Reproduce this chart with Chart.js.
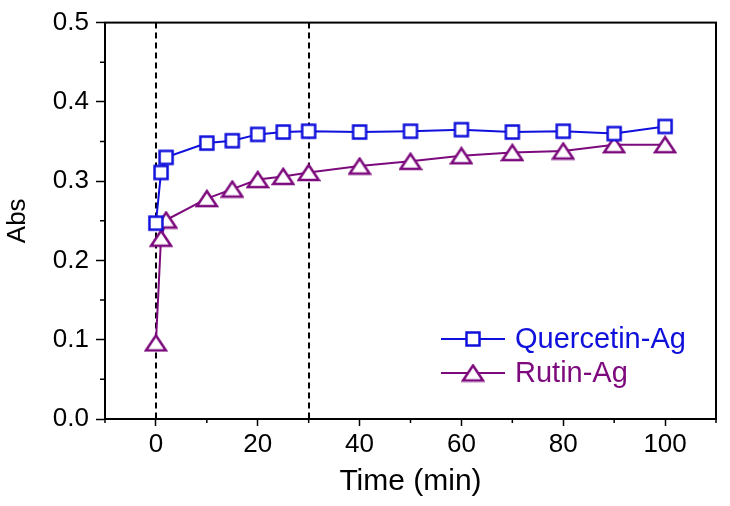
<!DOCTYPE html>
<html>
<head>
<meta charset="utf-8">
<script src="https://cdn.jsdelivr.net/npm/chart.js@4.4.0/dist/chart.umd.min.js"></script>
<style>
  html, body { margin: 0; padding: 0; background: #fff; }
  canvas { display: block; }
</style>
</head>
<body>
<canvas id="chart" width="730" height="506"></canvas>
<script>
// data
const times = [0, 1, 2, 10, 15, 20, 25, 30, 40, 50, 60, 70, 80, 90, 100];
const quercetinAbs = [0.247, 0.311, 0.330, 0.348, 0.351, 0.359, 0.362, 0.363, 0.362, 0.363, 0.365, 0.362, 0.363, 0.360, 0.369];
const rutinAbs = [0.096, 0.228, 0.251, 0.278, 0.290, 0.302, 0.306, 0.311, 0.319, 0.325, 0.332, 0.336, 0.338, 0.346, 0.346];
const seriesNames = ['Quercetin-Ag', 'Rutin-Ag'];
const markerTimes = [0, 30]; // dashed reference lines

const BLUE = '#1010dc';
const PURPLE = '#7d0a7d';
const FONT = '"Liberation Sans", Arial, sans-serif';

// hollow markers like the original
function squareMarker(color) {
  const c = document.createElement('canvas');
  c.width = 18; c.height = 18;
  const g = c.getContext('2d');
  g.lineWidth = 2.5;
  g.strokeStyle = color;
  g.fillStyle = '#fff';
  g.beginPath();
  g.rect(2.5, 2.5, 13, 13);
  g.fill();
  g.stroke();
  return c;
}

function triangleMarker(color) {
  const c = document.createElement('canvas');
  c.width = 24; c.height = 19;
  const g = c.getContext('2d');
  g.lineWidth = 2.5;
  g.strokeStyle = color;
  g.fillStyle = '#fff';
  g.beginPath();
  g.moveTo(12, 2);
  g.lineTo(22, 17);
  g.lineTo(2, 17);
  g.closePath();
  g.fill();
  g.stroke();
  return c;
}

const markers = [squareMarker(BLUE), triangleMarker(PURPLE)];
const colors = [BLUE, PURPLE];

// dashed vertical lines at the marked times
const refLines = {
  id: 'refLines',
  beforeDatasetsDraw(chart) {
    const { ctx, chartArea, scales } = chart;
    ctx.save();
    ctx.strokeStyle = '#000';
    ctx.lineWidth = 2;
    ctx.setLineDash([6, 4]);
    markerTimes.forEach(t => {
      const x = Math.round(scales.x.getPixelForValue(t));
      ctx.beginPath();
      ctx.moveTo(x, chartArea.top);
      ctx.lineTo(x, chartArea.bottom);
      ctx.stroke();
    });
    ctx.restore();
  }
};

// frame, minor ticks and the legend
const decor = {
  id: 'decor',
  afterDraw(chart) {
    const { ctx, chartArea: a, scales } = chart;
    ctx.save();
    ctx.strokeStyle = '#000';
    ctx.lineWidth = 2;
    ctx.strokeRect(a.left, a.top, a.right - a.left, a.bottom - a.top);

    // minor ticks
    ctx.lineWidth = 1.5;
    ctx.beginPath();
    scales.x.ticks.forEach(t => {
      if (t.value % 20 !== 0) {
        const x = scales.x.getPixelForValue(t.value);
        ctx.moveTo(x, a.bottom);
        ctx.lineTo(x, a.bottom + 4);
      }
    });
    scales.y.ticks.forEach(t => {
      if (Math.round(t.value * 100) % 10 !== 0) {
        const y = scales.y.getPixelForValue(t.value);
        ctx.moveTo(a.left, y);
        ctx.lineTo(a.left - 5, y);
      }
    });
    ctx.stroke();

    // legend
    const lx = 441, ly = [339, 373];
    ctx.font = '29px ' + FONT;
    ctx.textBaseline = 'middle';
    seriesNames.forEach((name, i) => {
      ctx.strokeStyle = colors[i];
      ctx.lineWidth = 2;
      ctx.beginPath();
      ctx.moveTo(lx, ly[i]);
      ctx.lineTo(lx + 64, ly[i]);
      ctx.stroke();
      const m = markers[i];
      ctx.drawImage(m, lx + 32 - m.width / 2, ly[i] - m.height / 2);
      ctx.fillStyle = colors[i];
      ctx.fillText(name, lx + 74, ly[i] + 1);
    });
    ctx.restore();
  }
};

new Chart(document.getElementById('chart'), {
  type: 'line',
  data: {
    datasets: [
      {
        label: seriesNames[0],
        data: times.map((t, i) => ({ x: t, y: quercetinAbs[i] })),
        borderColor: BLUE,
        borderWidth: 2,
        pointStyle: markers[0],
        tension: 0
      },
      {
        label: seriesNames[1],
        data: times.map((t, i) => ({ x: t, y: rutinAbs[i] })),
        borderColor: PURPLE,
        borderWidth: 2,
        pointStyle: markers[1],
        tension: 0
      }
    ]
  },
  options: {
    responsive: false,
    animation: false,
    layout: { padding: { top: 22, right: 14, bottom: 0, left: 0 } },
    plugins: {
      legend: { display: false },
      tooltip: { enabled: false }
    },
    scales: {
      x: {
        type: 'linear',
        min: -10,
        max: 110,
        afterFit(scale) { scale.height = 87; },
        grid: {
          drawOnChartArea: false,
          tickLength: 7,
          tickWidth: 1.5,
          tickColor: c => (c.tick && c.tick.value % 20 === 0) ? '#000' : 'rgba(0,0,0,0)'
        },
        border: { color: '#000', width: 2 },
        ticks: {
          stepSize: 10,
          autoSkip: false,
          maxRotation: 0,
          padding: 3,
          color: '#000',
          font: { family: FONT, size: 26 },
          callback: v => (v % 20 === 0 ? v : '')
        },
        title: {
          display: true,
          text: 'Time (min)',
          color: '#000',
          font: { family: FONT, size: 30 },
          padding: { top: 0, bottom: 6 }
        }
      },
      y: {
        min: 0,
        max: 0.5,
        afterFit(scale) { scale.width = 105; },
        grid: {
          drawOnChartArea: false,
          tickLength: 9,
          tickWidth: 1.5,
          tickColor: c => (c.tick && Math.round(c.tick.value * 100) % 10 === 0) ? '#000' : 'rgba(0,0,0,0)'
        },
        border: { color: '#000', width: 2 },
        ticks: {
          stepSize: 0.05,
          autoSkip: false,
          padding: 7,
          color: '#000',
          font: { family: FONT, size: 26 },
          callback: v => (Math.round(v * 100) % 10 === 0 ? v.toFixed(1) : '')
        },
        title: {
          display: true,
          text: 'Abs',
          color: '#000',
          font: { family: FONT, size: 26 },
          padding: { top: 2, bottom: 0 }
        }
      }
    }
  },
  plugins: [refLines, decor]
});
</script>
</body>
</html>
